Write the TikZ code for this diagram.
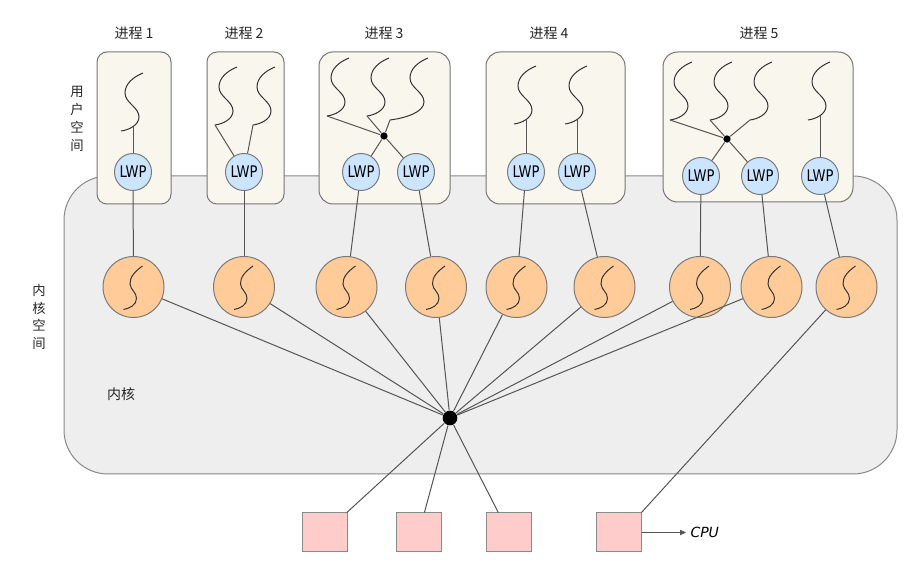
\documentclass[tikz,border=0pt]{standalone}
\usepackage{fontspec}
\setmainfont{DejaVu Sans}
\newfontfamily\cjk{Noto Sans CJK SC}
\newfontfamily\lwpf[FakeStretch=0.82]{DejaVu Sans}
\usetikzlibrary{arrows.meta}
\definecolor{kfill}{HTML}{EEEEEE}
\definecolor{kline}{HTML}{8A8A8A}
\definecolor{pfill}{HTML}{F9F7ED}
\definecolor{pline}{HTML}{757575}
\definecolor{lwpfill}{HTML}{CCE5FF}
\definecolor{ktfill}{HTML}{FFCC99}
\definecolor{cline}{HTML}{7A7A7A}
\definecolor{sfill}{HTML}{FFCCCC}
\definecolor{sline}{HTML}{8A8A8A}
\definecolor{lcol}{HTML}{555555}
\begin{document}
\begin{tikzpicture}[x=0.75pt,y=-0.75pt,line width=0.75pt,
  kernbox/.style={draw=kline,fill=kfill,rounded corners=33pt,inner sep=0,
    minimum width=833*0.75pt,minimum height=298*0.75pt},
  procbox/.style={draw=pline,fill=pfill,inner sep=0,rounded corners=#1},
  lwp/.style={circle,draw=cline,fill=lwpfill,minimum size=27.75pt,inner sep=0,
    font=\lwpf\fontsize{12}{12}\selectfont},
  kt/.style={circle,draw=cline,fill=ktfill,minimum size=45.75pt,inner sep=0},
  hubdot/.style={circle,fill=black,inner sep=0,minimum size=#1},
  cpubox/.style={draw=sline,fill=sfill,minimum width=33.75pt,minimum height=29.25pt,inner sep=0},
  conn/.style={draw=lcol,line width=0.75pt},
  thrline/.style={draw=black!80,line width=0.75pt},
  cjklabel/.style={font=\cjk\fontsize{10.5}{13}\selectfont,text=black!85},
  vlabel/.style={font=\cjk\fontsize{10}{13.3}\selectfont,align=center,text=black!85},
  uthr/.pic={\draw[thrline] (0,0) .. controls (-10,4) and (-18,11) .. (-18,20)
      .. controls (-18,30) and (-4,34) .. (-4,44)
      .. controls (-4,52) and (-14,57) .. (-22,58);
    \coordinate (-e) at (-22,58); \coordinate (-m) at (-10,54);},
  uthrl/.pic={\draw[thrline] (0,0) .. controls (-10,4) and (-18,11) .. (-18,20)
      .. controls (-18,30) and (-4,34) .. (-4,44)
      .. controls (-4,54) and (-22,60) .. (-38,62);
    \coordinate (-e) at (-38,62);},
  kthr/.pic={\draw[thrline] (9,-21) .. controls (2,-16) and (-4,-10) .. (-3.5,-3)
      .. controls (-3,3) and (3,5) .. (3,11.5)
      .. controls (3,18) and (-4,21.5) .. (-10,22.5);}
]
\useasboundingbox (0,0) rectangle (922,566);
\fill[white] (0,0) rectangle (922,566);

% kernel space
\node[kernbox] (kern) at (480.5,325) {};

% process boxes
\node[procbox=7.5pt,minimum width=74*0.75pt,minimum height=152*0.75pt] (p1) at (134,128) {};
\node[procbox=7.5pt,minimum width=77*0.75pt,minimum height=152*0.75pt] (p2) at (245.5,128) {};
\node[procbox=10.5pt,minimum width=131*0.75pt,minimum height=152*0.75pt] (p3) at (384.5,128) {};
\node[procbox=10.5pt,minimum width=139*0.75pt,minimum height=152*0.75pt] (p4) at (555.5,128) {};
\node[procbox=11pt,minimum width=190*0.75pt,minimum height=150*0.75pt] (p5) at (758,127) {};

% labels
\node[cjklabel] (n1) at (134,33) {进程 1};
\node[cjklabel] (n2) at (244,33) {进程 2};
\node[cjklabel] (n3) at (384,33) {进程 3};
\node[cjklabel] (n4) at (549,33) {进程 4};
\node[cjklabel] (n5) at (759,33) {进程 5};
\node[vlabel] (us) at (77,119) {用\\户\\空\\间};
\node[vlabel] (ks) at (39,317) {内\\核\\空\\间};
\node[cjklabel] (kn) at (121,394) {内核};

% user threads
\pic (t1) at (143,73) {uthr};
\pic (t2a) at (237,67) {uthr};
\pic (t2b) at (275,67) {uthr};
\pic (t3a) at (349,58) {uthr};
\pic (t3b) at (389,58) {uthr};
\pic (t3c) at (428,58) {uthrl};
\pic (t4a) at (536,66) {uthr};
\pic (t4b) at (587,66) {uthr};
\pic (t5a) at (692,62) {uthr};
\pic (t5b) at (732,62) {uthr};
\pic (t5c) at (772,62) {uthr};
\pic (t5d) at (830,62) {uthr};

% LWPs
\node[lwp] (l1) at (133,172) {LWP};
\node[lwp] (l2) at (244,172) {LWP};
\node[lwp] (l3a) at (361,172) {LWP};
\node[lwp] (l3b) at (416,172) {LWP};
\node[lwp] (l4a) at (526,172) {LWP};
\node[lwp] (l4b) at (577,172) {LWP};
\node[lwp] (l5a) at (701,176) {LWP};
\node[lwp] (l5b) at (760,176) {LWP};
\node[lwp] (l5c) at (820,176) {LWP};

% join dots
\node[hubdot=5.5pt] (d3) at (384,136) {};
\node[hubdot=5.5pt] (d5) at (727,139) {};

% kernel threads
\node[kt] (k1) at (133.5,287) {};
\node[kt] (k2) at (244,287) {};
\node[kt] (k3) at (346.5,287) {};
\node[kt] (k4) at (436,287) {};
\node[kt] (k5) at (516.5,287) {};
\node[kt] (k6) at (604.5,287) {};
\node[kt] (k7) at (700,287) {};
\node[kt] (k8) at (771.5,287) {};
\node[kt] (k9) at (846.5,287) {};
\foreach \k in {k1,k2,k3,k4,k5,k6,k7,k8,k9} {\pic at (\k) {kthr};}

% scheduler hub
\node[hubdot=11pt] (hub) at (450,418) {};

% CPUs
\node[cpubox] (s1) at (325,532.5) {};
\node[cpubox] (s2) at (419,532.5) {};
\node[cpubox] (s3) at (508.5,532.5) {};
\node[cpubox] (s4) at (618.5,532.5) {};
\coordinate (ae) at (686,532.5);
\node[anchor=west,font=\itshape\fontsize{10.5}{12}\selectfont,inner sep=0] (cpu) at (690,532.5) {CPU};

% connectors: threads to LWPs
\draw[conn] (t1-m) -- (l1);
\draw[conn] (t2a-e) -- (l2);
\draw[conn] (t2b-e) -- (l2);
\draw[conn] (t3a-e) -- (d3);
\draw[conn] (t3b-e) -- (d3);
\draw[conn] (t3c-e) -- (d3);
\draw[conn] (d3) -- (l3a);
\draw[conn] (d3) -- (l3b);
\draw[conn] (t4a-m) -- (l4a);
\draw[conn] (t4b-m) -- (l4b);
\draw[conn] (t5a-e) -- (d5);
\draw[conn] (t5b-e) -- (d5);
\draw[conn] (t5c-e) -- (d5);
\draw[conn] (d5) -- (l5a);
\draw[conn] (d5) -- (l5b);
\draw[conn] (t5d-m) -- (l5c);

% LWPs to kernel threads
\draw[conn] (l1) -- (k1);
\draw[conn] (l2) -- (k2);
\draw[conn] (l3a) -- (k3);
\draw[conn] (l3b) -- (k4);
\draw[conn] (l4a) -- (k5);
\draw[conn] (l4b) -- (k6);
\draw[conn] (l5a) -- (k7);
\draw[conn] (l5b) -- (k8);
\draw[conn] (l5c) -- (k9);

% kernel threads to hub, hub to CPUs
\foreach \k in {k1,k2,k3,k4,k5,k6,k7,k8} {\draw[conn] (\k) -- (hub);}
\draw[conn] (hub) -- (s1);
\draw[conn] (hub) -- (s2);
\draw[conn] (hub) -- (s3);
\draw[conn] (k9) -- (s4.north east);
\draw[conn,-{Triangle[length=4.5pt,width=4pt]}] (s4.east) -- (ae);
\end{tikzpicture}
\end{document}
